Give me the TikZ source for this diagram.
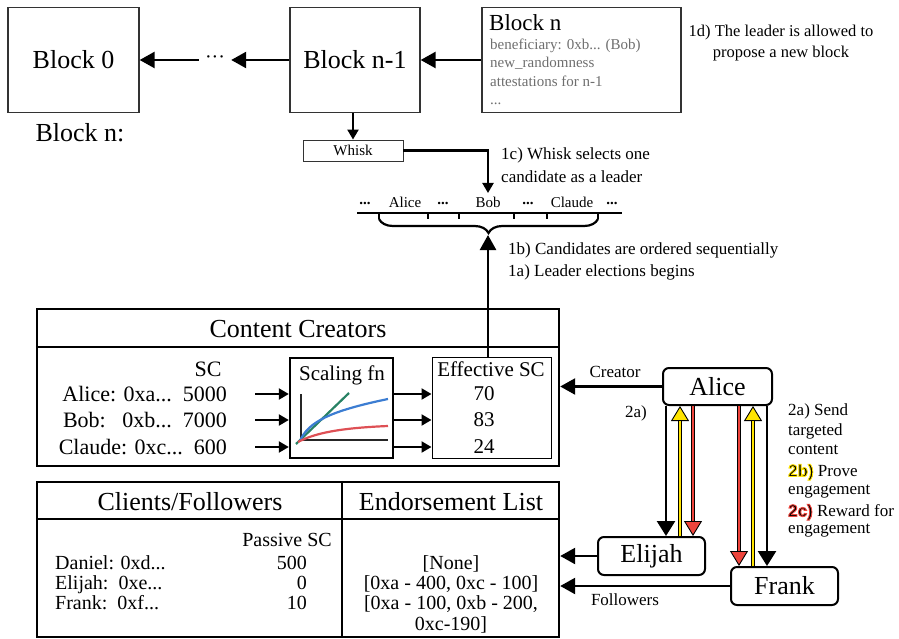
\documentclass[tikz,border=0pt]{standalone}
\usepackage{fontspec}
\setmainfont{Liberation Serif}
\newfontfamily\lsans{Liberation Sans}
\usetikzlibrary{arrows.meta,decorations.pathreplacing,calc}
\newcommand{\fsz}[2]{\fontsize{#1pt}{#2pt}\selectfont}
\definecolor{ylw}{RGB}{255,228,0}
\definecolor{rd}{RGB}{238,68,60}
\definecolor{gr}{RGB}{40,130,100}
\definecolor{bl}{RGB}{60,125,210}
\definecolor{rc}{RGB}{222,80,85}
\definecolor{gtxt}{RGB}{110,110,110}
\newcommand{\ylwout}[1]{\special{pdf:literal direct 2 Tr 0.9 w 1 0.89 0 RG}#1\special{pdf:literal direct 0 Tr 0 0 0 RG}}
\newcommand{\redout}[1]{\special{pdf:literal direct 2 Tr 0.9 w 0.93 0.27 0.24 RG}#1\special{pdf:literal direct 0 Tr 0 0 0 RG}}
\begin{document}
\begin{tikzpicture}[x=1pt,y=-1pt,
  lbl/.style={inner sep=0pt},
  blk/.style={draw=black!80, line width=1.3pt, inner sep=0pt, minimum height=105pt, font=\fsz{26}{30}},
  arr/.style={line width=2.5pt, -{Triangle[length=15pt,width=16pt]}},
  sarr/.style={line width=2.2pt, -{Triangle[length=10pt,width=11pt]}},
  tbl/.style={draw, line width=2.4pt, inner sep=0pt},
  pers/.style={draw, line width=2pt, rounded corners=6pt, inner sep=0pt, font=\fsz{26}{30}},
  barr/.style={line width=2.6pt, -{Triangle[length=15pt,width=18pt]}},
  carr/.style 2 args={line width=3.4pt, draw=black, -{Triangle[length=15pt,width=18pt,line width=0.9pt,fill=#1]}, postaction={draw=#1, line width=#2, -, shorten >=15pt}},
  note/.style={inner sep=0pt, font=\fsz{17}{20}},
]
\useasboundingbox (0,0) rectangle (899,639);

% ---------- blockchain ----------
\node[blk, minimum width=131pt] (b0) at (73.5,60) {Block 0};
\node[lbl, font=\fsz{20}{24}, minimum width=32pt] (dots) at (215,60) {···};
\node[blk, minimum width=130pt] (bn1) at (355,60) {Block n-1};
\node[draw=black!80, line width=1.3pt, minimum width=199pt, minimum height=105pt, inner sep=0pt] (bn) at (581.5,60) {};
\node[lbl, anchor=west, font=\fsz{23}{26}] (bnt) at (489,23) {Block n};
\node[lbl, anchor=north west, align=left, font=\fsz{15}{18.4}, text=gtxt] (bnl) at (490,38.5) {beneficiary: 0xb... (Bob)\\new\_randomness\\attestations for n-1\\...};
\draw[arr] (bn.west) -- (bn1.east);
\draw[arr] (bn1.west) -- (dots.east);
\draw[arr] (dots.west) -- (b0.east);
\node[align=center, font=\fsz{16.5}{21}] (n1d) at (781,43) {1d) The leader is allowed to\\propose a new block};
\node[lbl, font=\fsz{26}{30}] (bnlabel) at (80,133) {Block n:};

% ---------- whisk ----------
\node[draw=black!80, line width=0.9pt, minimum width=100pt, minimum height=21pt, inner sep=0pt, font=\fsz{15}{18}] (whisk) at (353,150.5) {Whisk};
\draw[sarr] (whisk.north |- bn1.south) -- (whisk.north);
\coordinate (bobtip) at (488,193);
\draw[sarr] (whisk.east) -| (bobtip);
\node[note, anchor=west] (n1c1) at (501,155) {1c) Whisk selects one};
\node[note, anchor=west] (n1c2) at (501,177) {candidate as a leader};

% ---------- candidate line ----------
\coordinate (cl) at (357,213);
\coordinate (cr) at (622,213);
\draw[line width=1.8pt] (cl) -- (cr);
\foreach \x in {379,428,459,514,547,598} \draw[line width=1.5pt] (\x,212) -- (\x,219);
\node[lbl, font=\fsz{15}{18}\bfseries] (d1) at (365,203) {...};
\node[lbl, font=\fsz{15}{18}] (cA) at (405,202) {Alice};
\node[lbl, font=\fsz{15}{18}\bfseries] (d2) at (443,203) {...};
\node[lbl, font=\fsz{15}{18}] (cB) at (488,202) {Bob};
\node[lbl, font=\fsz{15}{18}\bfseries] (d3) at (528,203) {...};
\node[lbl, font=\fsz{15}{18}] (cC) at (572,202) {Claude};
\node[lbl, font=\fsz{15}{18}\bfseries] (d4) at (612,203) {...};
\draw[line width=2.2pt, decorate, decoration={brace, mirror, amplitude=14pt}] (379,219) -- (598,219);
\coordinate (btip) at (488,235);
\node[note, anchor=west] (n1b) at (508,250) {1b) Candidates are ordered sequentially};
\node[note, anchor=west] (n1a) at (508,272) {1a) Leader elections begins};

% ---------- content creators ----------
\node[tbl, minimum width=522pt, minimum height=157pt] (cc) at (298,387.5) {};
\coordinate (ccdiv) at (0,347);
\draw[line width=2.4pt] (cc.west |- ccdiv) -- (cc.east |- ccdiv);
\node[lbl, font=\fsz{26}{30}] (cct) at (298,329) {Content Creators};
\node[lbl, font=\fsz{22}{26}] (sch) at (208,369) {SC};
\node[lbl, anchor=east, font=\fsz{22}{26}] (ra) at (227,394) {Alice: 0xa...~~5000};
\node[lbl, anchor=east, font=\fsz{22}{26}] (rb) at (227,420) {Bob:~~~0xb...~~7000};
\node[lbl, anchor=east, font=\fsz{22}{26}] (rc) at (227,447) {Claude: 0xc...~~600};
\node[draw, line width=2.4pt, minimum width=103pt, minimum height=100pt, inner sep=0pt] (sf) at (341.5,408) {};
\node[lbl, font=\fsz{21}{25}] (sft) at (342,375) {Scaling fn};
\draw[line width=2.2pt, black!85] (301,394) -- (301,440) -- (388,440);
\draw[line width=2.2pt, gr] (296,444) -- (349,393);
\draw[line width=2.2pt, bl] (300,441) .. controls (308,422) and (330,411) .. (388,399);
\draw[line width=2.2pt, rc] (298,442) .. controls (315,433) and (340,428) .. (388,426);
\node[draw, line width=1pt, minimum width=119pt, minimum height=101pt, inner sep=0pt] (es) at (491.5,407.5) {};
\node[lbl, font=\fsz{21}{25}] (est) at (491,369) {Effective SC};
\node[lbl, font=\fsz{21}{25}] (e1) at (484,394) {70};
\node[lbl, font=\fsz{21}{25}] (e2) at (484,420) {83};
\node[lbl, font=\fsz{21}{25}] (e3) at (484,447) {24};
\foreach \r/\y in {a/394,b/420,c/447}{
  \coordinate (s\r) at (255,\y);
  \draw[sarr] (s\r) -- (sf.west |- s\r);
  \draw[sarr] (sf.east |- s\r) -- (es.west |- s\r);
}
\draw[arr] (btip |- es.north) -- (btip);

% ---------- clients table ----------
\node[tbl, minimum width=522pt, minimum height=155pt] (cf) at (298,559.5) {};
\coordinate (cfdiv) at (0,519);
\coordinate (cfv) at (342,0);
\draw[line width=2.4pt] (cf.west |- cfdiv) -- (cf.east |- cfdiv);
\draw[line width=2.4pt] (cfv |- cf.north) -- (cfv |- cf.south);
\node[lbl, font=\fsz{26}{30}] (cft) at (190,502) {Clients/Followers};
\node[lbl, font=\fsz{26}{30}] (elt) at (451,502) {Endorsement List};
\node[lbl, anchor=east, font=\fsz{20}{24}] (psc) at (332,540) {Passive SC};
\node[lbl, anchor=west, align=left, font=\fsz{20}{20}] (fn) at (55,583) {Daniel: 0xd...\\Elijah:~~0xe...\\Frank:~~0xf...};
\node[lbl, anchor=east, align=right, font=\fsz{20}{20}] (fv) at (307,583) {500\\0\\10};
\node[align=center, inner sep=0pt, font=\fsz{20}{20.4}] (el) at (451,594) {[None]\\{}[0xa - 400, 0xc - 100]\\{}[0xa - 100, 0xb - 200,\\0xc-190]};

% ---------- persons ----------
\node[pers, minimum width=109pt, minimum height=37pt] (alice) at (717.5,386.5) {Alice};
\node[pers, minimum width=107pt, minimum height=38pt] (elijah) at (651.5,556) {Elijah};
\node[pers, minimum width=107pt, minimum height=38pt] (frank) at (784.5,586) {Frank};
\draw[arr] (alice.west) -- (cc.east |- alice.west);
\node[note] (lcr) at (615,372) {Creator};
\draw[arr] (elijah.west) -- (cf.east |- elijah.west);
\draw[arr] (frank.west) -- (cf.east |- frank.west);
\node[note] (lfo) at (625,600) {Followers};

\draw[barr] (666,0 |- alice.south) -- (666,0 |- elijah.north);
\draw[carr={ylw}{1.5pt}] (680,0 |- elijah.north) -- (680,0 |- alice.south);
\draw[carr={rd}{2pt}] (693,0 |- alice.south) -- (693,0 |- elijah.north);
\draw[carr={rd}{2pt}] (739,0 |- alice.south) -- (739,0 |- frank.north);
\draw[carr={ylw}{1.5pt}] (753,0 |- frank.north) -- (753,0 |- alice.south);
\draw[barr] (767,0 |- alice.south) -- (767,0 |- frank.north);

\node[note] (l2a) at (636,413) {2a)};
\node[note, anchor=north west, align=left, font=\fsz{17}{19.5}] (n2a) at (788,404) {2a) Send\\targeted\\content};
\node[note, anchor=north west, align=left, font=\fsz{17}{17.5}] (n2b) at (788,464) {{\lsans\bfseries\ylwout{2b)}} Prove\\engagement};
\node[note, anchor=north west, align=left, font=\fsz{17}{17}] (n2c) at (788,504) {{\lsans\bfseries\redout{2c)}} Reward for\\engagement};
\end{tikzpicture}
\end{document}
